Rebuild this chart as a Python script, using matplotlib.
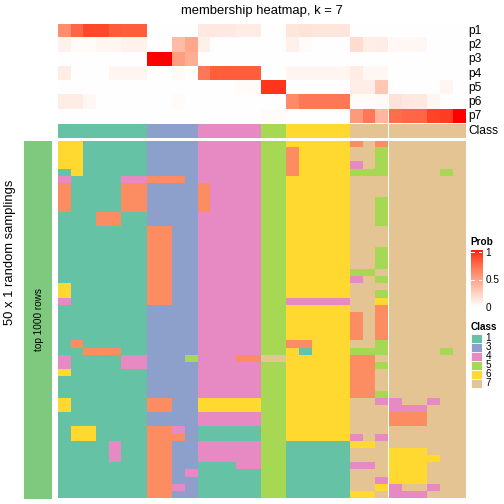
import numpy as np
import matplotlib
matplotlib.use("Agg")
import matplotlib.pyplot as plt
from matplotlib.colors import ListedColormap, BoundaryNorm
from matplotlib.patches import Rectangle

plt.rcParams['font.family'] = ['Liberation Sans', 'DejaVu Sans']

# ---------------- data ----------------
title = "membership heatmap, k = 7"
row_title = "50 x 1 random samplings"
slice_label = "top 1000 rows"
prob_names = ["p1", "p2", "p3", "p4", "p5", "p6", "p7"]
class_ids = [1, 2, 3, 4, 5, 6, 7]
class_hex = ["#66C2A5", "#FC8D62", "#8DA0CB", "#E78AC3", "#A6D854", "#FFD92F", "#E5C494"]
legend_classes = [1, 3, 4, 5, 6, 7]
column_class = [1]*7 + [3]*4 + [4]*5 + [5]*2 + [6]*5 + [7]*9
n_first_slice = 26

p1 = [0.58, 0.75, 0.87, 0.87, 0.80, 0.79, 0.79, 0, 0, 0, 0,
      0.12, 0.12, 0.12, 0.10, 0.10, 0, 0, 0.13, 0.15, 0.13, 0.13, 0.13,
      0, 0, 0, 0, 0, 0, 0, 0, 0]
p2 = [0.07, 0.02, 0.02, 0.05, 0.05, 0.07, 0.07, 0, 0, 0.35, 0.45,
      0.08, 0, 0, 0, 0, 0, 0, 0.08, 0.02, 0, 0, 0,
      0.18, 0.09, 0.10, 0.04, 0.04, 0.04, 0, 0, 0]
p3 = [0, 0, 0, 0, 0, 0, 0, 1.0, 1.0, 0.50, 0.42,
      0, 0, 0, 0, 0, 0, 0, 0, 0, 0, 0, 0,
      0, 0, 0, 0, 0, 0, 0, 0, 0]
p4 = [0.10, 0, 0, 0, 0.05, 0.05, 0.05, 0, 0, 0.03, 0,
      0.68, 0.79, 0.79, 0.79, 0.79, 0, 0, 0.05, 0.05, 0.05, 0.05, 0.05,
      0.10, 0.04, 0.04, 0, 0, 0, 0, 0, 0]
p5 = [0, 0, 0, 0, 0, 0, 0, 0, 0, 0, 0,
      0, 0, 0, 0.02, 0.02, 0.92, 0.92, 0, 0, 0, 0, 0,
      0.09, 0.09, 0.29, 0, 0, 0, 0, 0.05, 0]
p6 = [0.10, 0.10, 0.04, 0, 0, 0, 0, 0, 0, 0.02, 0,
      0, 0, 0, 0, 0, 0, 0, 0.60, 0.68, 0.68, 0.68, 0.68,
      0.02, 0.02, 0.03, 0.15, 0.12, 0.12, 0.05, 0, 0]
p7 = [0, 0, 0, 0, 0, 0, 0, 0, 0, 0, 0,
      0, 0, 0, 0, 0, 0.02, 0.02, 0, 0, 0, 0, 0,
      0.52, 0.68, 0.38, 0.72, 0.75, 0.75, 0.88, 0.90, 1.0]

# 50 samplings x 32 columns, class label per cell
sampling_rows = [
    "6611111 3333 44444 55 66666 272 777777",
    "6611111 3333 44444 55 26666 775 777777",
    "6611111 3333 44444 55 26666 775 777777",
    "6611111 3333 44444 55 26666 475 777777",
    "1611111 3333 44444 55 26666 555 777757",
    "4111144 2223 44444 55 66666 777 777777",
    "2111122 3333 24444 55 66666 777 777777",
    "2111122 3333 24444 55 66666 777 777777",
    "2111122 3333 24444 55 66666 775 777777",
    "2111122 3333 24444 55 66666 775 777777",
    "1112211 3333 44444 55 66666 775 777777",
    "1112211 3333 44444 55 66666 775 777777",
    "1111111 2233 44444 55 66666 777 777777",
    "1111111 2233 44444 55 66666 777 777777",
    "1111111 2233 44444 55 66666 777 777777",
    "1111111 2233 44444 55 66666 775 777777",
    "1111111 2233 44444 55 66666 775 777777",
    "1111111 2233 44444 55 66666 775 777777",
    "1111111 2233 44444 55 66666 557 777777",
    "1111111 2233 44444 55 66666 475 777777",
    "6111111 2233 44444 55 66666 777 777777",
    "6111111 2233 44444 55 66666 775 777777",
    "4111111 2233 44444 55 44444 776 777777",
    "1111111 3333 44444 55 66666 772 777777",
    "1111111 3333 44444 55 66666 272 777777",
    "1111111 3333 44444 55 66666 272 777777",
    "1111111 3333 44444 55 66666 272 777777",
    "1111111 3333 44444 55 66666 272 777777",
    "1211111 3333 44444 55 22666 775 777777",
    "1122211 3333 44444 55 61666 555 777757",
    "4111144 3335 44422 77 66666 227 777777",
    "4111144 3333 44444 55 66666 225 777777",
    "6111111 3333 44444 55 66666 227 777777",
    "1111111 3333 44444 55 66666 227 777777",
    "1111111 3333 44444 55 66666 227 777777",
    "1111111 3333 44444 55 66666 225 777777",
    "6111111 2233 66666 55 66666 774 477477",
    "6111111 2233 66666 55 66666 777 444777",
    "1111111 3333 44444 55 66666 777 222777",
    "1111111 3333 44444 55 66666 777 222777",
    "1661111 2243 11111 55 66666 777 777777",
    "1661111 2223 11111 55 66666 474 777777",
    "1111411 2233 44444 55 11111 667 777777",
    "1111411 2233 44444 55 11111 777 666777",
    "1111411 2233 44444 55 11111 777 666677",
    "1111111 2233 11144 55 11111 447 666777",
    "1111111 2234 11111 55 11111 777 666777",
    "1111111 2233 11111 55 11111 774 666777",
    "1111111 2243 11111 55 11111 776 477477",
    "1111111 2233 11111 55 11111 667 444777",
]

# ---------------- colour maps ----------------
M = np.array([[0.4124, 0.3576, 0.1805],
              [0.2126, 0.7152, 0.0722],
              [0.0193, 0.1192, 0.9505]])
WHITE = M @ np.ones(3)


def _lin(c):
    c = np.asarray(c, float)
    return np.where(c <= 0.04045, c / 12.92, ((c + 0.055) / 1.055) ** 2.4)


def _gam(c):
    c = np.clip(c, 0, None)
    return np.where(c <= 0.0031308, 12.92 * c, 1.055 * np.power(c, 1 / 2.4) - 0.055)


def rgb2lab(rgb):
    xyz = (M @ _lin(rgb)) / WHITE
    d = 6 / 29
    f = np.where(xyz > d ** 3, np.cbrt(xyz), xyz / (3 * d * d) + 4 / 29)
    return np.array([116 * f[1] - 16, 500 * (f[0] - f[1]), 200 * (f[1] - f[2])])


def lab2rgb(lab):
    L, a, b = lab
    fy = (L + 16) / 116
    fx = fy + a / 500
    fz = fy - b / 200
    d = 6 / 29
    finv = lambda t: np.where(t > d, t ** 3, 3 * d * d * (t - 4 / 29))
    xyz = np.array([finv(fx), finv(fy), finv(fz)]) * WHITE
    return np.clip(_gam(np.linalg.inv(M) @ xyz), 0, 1)


lab_w = rgb2lab([1, 1, 1])
lab_r = rgb2lab([1, 0, 0])
prob_cmap = ListedColormap([lab2rgb(lab_w + t * (lab_r - lab_w)) for t in np.linspace(0, 1, 256)])

class_cmap = ListedColormap(class_hex)
class_norm = BoundaryNorm(np.arange(0.5, 8.5, 1), class_cmap.N)

# ---------------- matrices ----------------
class_mat = np.array([[int(ch) for ch in r.replace(" ", "")] for r in sampling_rows])
prob_mat = np.array([p1, p2, p3, p4, p5, p6, p7])
col_class_mat = np.array([column_class])

# ---------------- layout ----------------
W = H = 504
fig = plt.figure(figsize=(7, 7), dpi=72)


def ax_px(x0, y0, x1, y1):
    ax = fig.add_axes([x0 / W, 1 - y1 / H, (x1 - x0) / W, (y1 - y0) / H])
    ax.set_axis_off()
    return ax


def txt(x, y, s, **kw):
    fig.text(x / W, 1 - y / H, s, **kw)


X0, X1 = 58, 465
gap = 1.6
cw = (X1 - X0 - gap) / class_mat.shape[1]
xs1 = X0 + n_first_slice * cw
xs2 = xs1 + gap
slices = [(X0, xs1, slice(0, n_first_slice)), (xs2, X1, slice(n_first_slice, None))]

for xa, xb, sl in slices:
    ax = ax_px(xa, 24, xb, 123.3)
    ax.imshow(prob_mat[:, sl], cmap=prob_cmap, vmin=0, vmax=1, aspect='auto',
              interpolation='nearest')
    ax = ax_px(xa, 124.3, xb, 138)
    ax.imshow(col_class_mat[:, sl], cmap=class_cmap, norm=class_norm, aspect='auto',
              interpolation='nearest')
    ax = ax_px(xa, 141, xb, 498.5)
    ax.imshow(class_mat[:, sl], cmap=class_cmap, norm=class_norm, aspect='auto',
              interpolation='nearest')

# annotation row names
row_h = (123.3 - 24) / 7
for i, nm in enumerate(prob_names):
    txt(468, 24 + row_h * (i + 0.5), nm, fontsize=12, va='center', ha='left')
txt(468, 131.2, "Class", fontsize=12, va='center', ha='left')

# title
txt(261.5, 11, title, fontsize=13, ha='center', va='center')

# left: slice bar and row title
axg = ax_px(24, 141, 52, 498.5)
axg.add_patch(Rectangle((0, 0), 1, 1, color="#7FC97F", transform=axg.transAxes))
txt(38.5, 320, slice_label, fontsize=10, rotation=90, ha='center', va='center')
txt(10.5, 252.5, row_title, fontsize=13, rotation=90, ha='center', va='center')

# legend: Prob
txt(470.5, 242, "Prob", fontsize=10, fontweight='bold', ha='left', va='center')
axc = ax_px(470.5, 250, 482, 307)
axc.imshow(np.linspace(1, 0, 200)[:, None], cmap=prob_cmap, vmin=0, vmax=1,
           aspect='auto', extent=[0, 1, 0, 1])
axc.set_xlim(0, 1)
axc.set_ylim(0, 1)
for v in [1.0, 0.5]:
    yy = 0.0 + v * 0.96
    axc.plot([0.72, 1.0], [yy, yy], color='white', lw=1)
    axc.plot([0.0, 0.28], [yy, yy], color='white', lw=1)
for v, lab in [(1.0, "1"), (0.5, "0.5"), (0.0, "0")]:
    txt(485.5, 307 - v * (307 - 252.5) + (1 if v == 0 else 0), lab, fontsize=10, ha='left', va='center')

# legend: Class
txt(470.5, 326.5, "Class", fontsize=10, fontweight='bold', ha='left', va='center')
axl = ax_px(470.5, 334, 482, 387.5)
axl.set_xlim(0, 1)
axl.set_ylim(len(legend_classes), 0)
bh = (387.5 - 334) / len(legend_classes)
for i, c in enumerate(legend_classes):
    axl.add_patch(Rectangle((0, i), 1, 1, facecolor=class_hex[class_ids.index(c)],
                            edgecolor='white', lw=0.8))
    txt(485.5, 334 + bh * (i + 0.5), str(c), fontsize=10, ha='left', va='center')

fig.savefig("out.png", dpi=72)
